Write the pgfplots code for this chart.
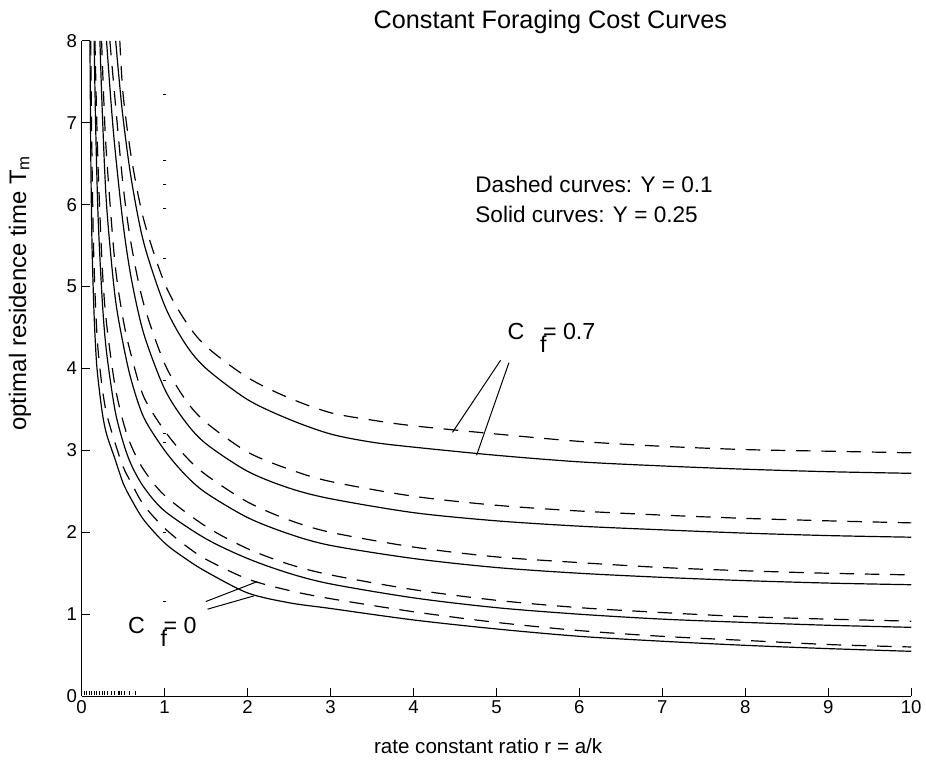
\documentclass[border=0pt]{standalone}
\usepackage{pgfplots}
\pgfplotsset{compat=1.18}
\usepackage{fontspec}
\setmainfont{Liberation Sans}
\begin{document}
\begin{tikzpicture}
\begin{axis}[
  at={(0pt,0pt)}, anchor=south west,
  width=624.75pt, height=493.5pt, scale only axis,
  xmin=0, xmax=10, ymin=0, ymax=8,
  axis x line*=bottom, axis y line*=left,
  axis line style={line width=0.75pt},
  xtick={0,1,...,10}, ytick={0,1,...,8},
  tick align=inside, major tick length=6pt,
  tick style={black, line width=0.75pt},
  ticklabel style={font=\fontsize{14}{16}\selectfont},
  /pgf/number format/assume math mode=true,
  clip=false,
]
% solid = Y 0.25, dashed = Y 0.1
\addplot[black, line width=0.9pt, smooth] coordinates {
(0.41,8)(0.45,7.55)(0.5,7.05)(0.6,6.3)(0.75,5.53)(1,4.77)(1.25,4.3)(1.5,4.0)(2,3.62)(2.5,3.38)(3,3.2)(3.5,3.1)(4,3.04)(5,2.94)(6,2.86)(7,2.81)(8,2.77)(9,2.74)(10,2.72)};
\addplot[black, line width=0.9pt, dash pattern=on 11pt off 8pt, smooth] coordinates {
(0.46,8)(0.5,7.34)(0.6,6.57)(0.75,5.81)(1,5.04)(1.25,4.58)(1.5,4.27)(2,3.89)(2.5,3.64)(3,3.46)(3.5,3.37)(4,3.3)(5,3.2)(6,3.11)(7,3.05)(8,3.01)(9,2.99)(10,2.97)};
\addplot[black, line width=0.9pt, smooth] coordinates {
(0.3,8)(0.35,7.3)(0.4,6.7)(0.5,5.76)(0.6,5.09)(0.75,4.42)(1,3.75)(1.25,3.35)(1.5,3.08)(2,2.745)(2.5,2.54)(3,2.41)(4,2.24)(5,2.14)(6,2.075)(7,2.03)(8,1.99)(9,1.96)(10,1.94)};
\addplot[black, line width=0.9pt, dash pattern=on 11pt off 8pt, smooth] coordinates {
(0.34,8)(0.4,7.31)(0.5,6.23)(0.6,5.5)(0.75,4.78)(1,4.06)(1.25,3.62)(1.5,3.34)(2,2.98)(2.5,2.77)(3,2.62)(4,2.44)(5,2.33)(6,2.26)(7,2.21)(8,2.17)(9,2.14)(10,2.115)};
\addplot[black, line width=0.9pt, smooth] coordinates {
(0.22,8)(0.25,7.1)(0.3,6.0)(0.4,4.9)(0.5,4.3)(0.6,3.85)(0.75,3.4)(1,3.0)(1.25,2.7)(1.5,2.48)(2,2.18)(2.5,1.98)(3,1.84)(4,1.68)(5,1.57)(6,1.5)(7,1.45)(8,1.41)(9,1.38)(10,1.36)};
\addplot[black, line width=0.9pt, dash pattern=on 11pt off 8pt, smooth] coordinates {
(0.24,8)(0.27,7.2)(0.3,6.6)(0.4,5.3)(0.5,4.6)(0.6,4.15)(0.75,3.65)(1,3.24)(1.25,2.93)(1.5,2.7)(2,2.37)(2.5,2.15)(3,2.0)(4,1.82)(5,1.7)(6,1.63)(7,1.57)(8,1.53)(9,1.5)(10,1.48)};
\addplot[black, line width=0.9pt, smooth] coordinates {
(0.15,8)(0.17,6.9)(0.2,5.8)(0.25,4.8)(0.3,4.2)(0.4,3.5)(0.5,3.1)(0.6,2.82)(0.75,2.55)(1,2.26)(1.5,1.92)(2,1.68)(2.5,1.5)(3,1.37)(4,1.2)(5,1.08)(6,1.0)(7,0.94)(8,0.9)(9,0.865)(10,0.84)};
\addplot[black, line width=0.9pt, dash pattern=on 11pt off 8pt, smooth] coordinates {
(0.16,8)(0.18,7.1)(0.2,6.4)(0.25,5.2)(0.3,4.55)(0.4,3.8)(0.5,3.35)(0.6,3.05)(0.75,2.76)(1,2.45)(1.5,2.07)(2,1.8)(2.5,1.61)(3,1.48)(4,1.3)(5,1.17)(6,1.08)(7,1.02)(8,0.97)(9,0.94)(10,0.915)};
\addplot[black, line width=0.9pt, smooth] coordinates {
(0.1,8)(0.11,6.6)(0.125,5.5)(0.15,4.65)(0.176,4.12)(0.2,3.85)(0.25,3.45)(0.3,3.2)(0.4,2.9)(0.5,2.6)(0.6,2.4)(0.75,2.15)(1,1.87)(1.25,1.68)(1.5,1.52)(2,1.26)(2.5,1.14)(3,1.07)(4,0.93)(5,0.82)(6,0.73)(7,0.67)(8,0.62)(9,0.58)(10,0.547)};
\addplot[black, line width=0.9pt] coordinates {(0,8)(0.1,8)};
\addplot[black, line width=0.9pt, dash pattern=on 11pt off 8pt, smooth] coordinates {
(0.11,8)(0.12,6.9)(0.14,5.6)(0.17,4.7)(0.2,4.2)(0.25,3.75)(0.3,3.45)(0.4,3.1)(0.5,2.8)(0.6,2.6)(0.75,2.33)(1,2.05)(1.25,1.84)(1.5,1.67)(2,1.43)(2.5,1.29)(3,1.19)(4,1.03)(5,0.9)(6,0.8)(7,0.73)(8,0.68)(9,0.63)(10,0.60)};
% stray points
\addplot[only marks, mark=-, mark size=1.2pt, black] coordinates {
(1,7.35)(1,6.54)(1,6.25)(1,5.95)(1,5.35)(1,3.86)(1,3.21)(1,3.1)(1,2.0)(1,1.16)};
\addplot[only marks, mark=|, mark size=1.5pt, black, line width=0.8pt] coordinates {
(0.03,0.04)(0.06,0.04)(0.09,0.04)(0.12,0.04)(0.15,0.04)(0.18,0.04)(0.21,0.04)(0.25,0.04)(0.28,0.04)(0.31,0.04)(0.36,0.04)(0.4,0.04)(0.45,0.04)(0.48,0.04)(0.52,0.04)(0.58,0.04)(0.65,0.04)};
% titles and labels
\node[anchor=base, font=\fontsize{19}{22}\selectfont] at (axis description cs:0.565,1) [yshift=9pt] {Constant Foraging Cost Curves};
\node[anchor=center, font=\fontsize{15.5}{18}\selectfont] at (axis description cs:0.49,0) [yshift=-38pt] {rate constant ratio r = a/k};
\node[anchor=center, rotate=90, font=\fontsize{18}{20}\selectfont] at (axis description cs:-0.0745,0.615) {optimal residence time T\textsubscript{m}};
% annotations
\node[anchor=base west, font=\fontsize{17}{20}\selectfont] at (axis cs:4.69,6.15) {Dashed curves: Y = 0.1};
\node[anchor=base west, font=\fontsize{17}{20}\selectfont] at (axis cs:4.69,5.78) {Solid curves: Y = 0.25};
\node[anchor=base west, font=\fontsize{17.5}{20}\selectfont, inner sep=0pt] at (axis cs:5.13,4.35) {C\hspace{0.68em}\raisebox{-0.55em}{f}\hspace{-0.15em}= 0.7};
\node[anchor=base west, font=\fontsize{17.5}{20}\selectfont, inner sep=0pt] at (axis cs:0.556,0.76) {C\hspace{0.68em}\raisebox{-0.55em}{f}\hspace{-0.15em}= 0};
\draw[line width=0.75pt] (axis cs:5.05,4.10) -- (axis cs:4.47,3.22);
\draw[line width=0.75pt] (axis cs:5.15,4.07) -- (axis cs:4.76,2.94);
\draw[line width=0.75pt] (axis cs:1.497,1.155) -- (axis cs:2.117,1.398);
\draw[line width=0.75pt] (axis cs:1.516,1.061) -- (axis cs:2.077,1.224);
\end{axis}
\path (-61.5pt,-54pt) rectangle (633pt,524.25pt);
\end{tikzpicture}
\end{document}
